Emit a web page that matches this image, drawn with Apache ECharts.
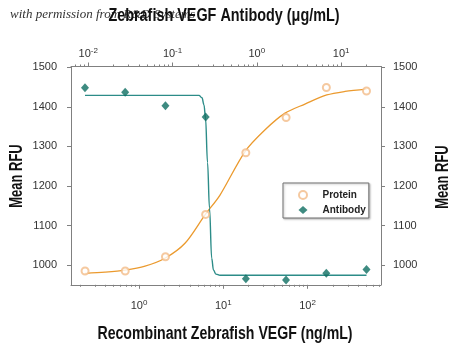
<!DOCTYPE html>
<html><head><meta charset="utf-8">
<script src="https://cdn.jsdelivr.net/npm/echarts@6/dist/echarts.min.js"></script>
<style>html,body{margin:0;padding:0;background:#fff}#c{width:450px;height:349px}</style>
</head><body><div id="c"></div>
<script>
// Data
const proteinConc = [0.229, 0.686, 2.06, 6.17, 18.5, 55.6, 167, 500];          // ng/mL
const proteinRFU  = [985, 985, 1021, 1128, 1284, 1373, 1449, 1440];
const antibodyConc = [0.00914, 0.0274, 0.0823, 0.247, 0.741, 2.22, 6.67, 20];   // ug/mL
const antibodyRFU  = [1448, 1437, 1403, 1374, 965, 962, 979, 989];

// fitted curves
const proteinFitConc = [0.229, 0.395, 0.68, 1.18, 2.03, 3.51, 6.07, 9.14, 18.1, 31.3, 54, 93, 169, 278, 500];
const proteinFitRFU  = [979, 982, 987, 997, 1017, 1055, 1127, 1177, 1287, 1342, 1384, 1407, 1430, 1439, 1445];
const antibodyFitConc = [0.00914, 0.206, 0.2234, 0.236, 0.246, 0.260, 0.2743, 0.2913, 0.306, 0.3276, 0.3655, 20];
const antibodyFitRFU  = [1429, 1429, 1423, 1405, 1372, 1259, 1144, 1017, 987, 977, 974, 974];

// axes
const bottomDecades = [0, 1, 2];
const topDecades = [-2, -1, 0, 1];
const yTicks = [1000, 1100, 1200, 1300, 1400, 1500];
const bottomRange = [-0.807, 2.871];   // log10 ng/mL
const topRange = [-2.205, 1.473];      // log10 ug/mL
const yRange = [950, 1502];

// titles
const topTitle = 'Zebrafish VEGF Antibody (\u03bcg/mL)';
const bottomTitle = 'Recombinant Zebrafish VEGF (ng/mL)';
const yTitle = 'Mean RFU';
const watermark = 'with permission from R&D Systems';

const FONT = '"Liberation Sans",Arial,sans-serif';
const TITLE_FONT = 'bold 18px "Liberation Sans", Arial, sans-serif';
const AX = '#808080';

function minorTicks(range) {
  const out = [];
  for (let d = Math.floor(range[0]); d <= Math.ceil(range[1]); d++) {
    for (let k = 2; k <= 9; k++) {
      const v = d + Math.log10(k);
      if (v >= range[0] && v <= range[1]) out.push(v);
    }
  }
  return out;
}
const toPts = (cs, vs) => cs.map((c, i) => [Math.log10(c), vs[i]]);
const supFmt = v => '{b|10}{s|' + Math.round(v) + '}';
const supRich = {
  b: { fontSize: 11, fontFamily: FONT, color: '#333' },
  s: { fontSize: 8, fontFamily: FONT, color: '#333', padding: [0, 0, 6, 0] }
};

function majorX(pos, range, decades, margin) {
  return {
    type: 'value', gridIndex: 0, position: pos, min: range[0], max: range[1],
    axisLine: { show: true, onZero: false, lineStyle: { color: AX, width: 1 } },
    axisTick: { show: true, inside: false, length: 4, customValues: decades, lineStyle: { color: AX } },
    axisLabel: { show: true, customValues: decades, formatter: supFmt, rich: supRich, margin: margin },
    splitLine: { show: false }
  };
}
function minorX(pos, range) {
  return {
    type: 'value', gridIndex: 1, position: pos, min: range[0], max: range[1],
    axisLine: { show: false, onZero: false },
    axisTick: { show: true, inside: false, length: 2, customValues: minorTicks(range), lineStyle: { color: AX } },
    axisLabel: { show: false }, splitLine: { show: false }
  };
}
function yAx(pos, gridIndex, show, margin) {
  return {
    type: 'value', gridIndex: gridIndex, position: pos, min: yRange[0], max: yRange[1],
    show: show,
    axisLine: { show: true, onZero: false, lineStyle: { color: AX, width: 1 } },
    axisTick: { show: true, inside: false, length: 4, customValues: yTicks, lineStyle: { color: AX } },
    axisLabel: { show: true, customValues: yTicks, formatter: v => String(v), margin: margin,
                 fontSize: 11, fontFamily: FONT, color: '#333' },
    splitLine: { show: false }
  };
}
function titleText(text, x, y, sx, rot) {
  return {
    type: 'text', x: x, y: y, scaleX: sx, rotation: rot || 0, z: 10,
    style: { text: text, font: TITLE_FONT, fill: '#111', align: 'center', verticalAlign: 'middle' }
  };
}

const gridRect = { left: 71, right: 69, top: 66.5, bottom: 64.2, outerBoundsMode: 'none', containLabel: false };
const chart = echarts.init(document.getElementById('c'), null, { renderer: 'canvas' });
chart.setOption({
  animation: false,
  backgroundColor: '#fff',
  grid: [Object.assign({}, gridRect), Object.assign({}, gridRect)],
  xAxis: [
    majorX('bottom', bottomRange, bottomDecades, 14),
    majorX('top', topRange, topDecades, 6),
    minorX('bottom', bottomRange),
    minorX('top', topRange)
  ],
  yAxis: [
    yAx('left', 0, true, 14),
    yAx('right', 0, true, 12),
    yAx('left', 1, false, 0)
  ],
  legend: {
    data: ['Protein', 'Antibody'],
    orient: 'vertical', left: 283, top: 183,
    itemWidth: 9, itemHeight: 8, itemGap: 5,
    padding: [7, 3, 3, 15],
    borderColor: '#707070', borderWidth: 1, backgroundColor: '#fff',
    shadowColor: 'rgba(0,0,0,0.25)', shadowBlur: 2, shadowOffsetX: 1, shadowOffsetY: 1,
    textStyle: { fontSize: 10, fontWeight: 'bold', fontFamily: FONT, color: '#222', padding: [0, 0, 0, 10] }
  },
  graphic: [
    { type: 'text', left: 10, top: 8, z: 0,
      style: { text: watermark, font: 'italic 13px "Liberation Serif", serif', fill: '#333' } },
    titleText(topTitle, 224, 16, 0.8),
    titleText(bottomTitle, 225, 334, 0.785),
    titleText(yTitle, 17, 176, 0.72, Math.PI / 2),
    titleText(yTitle, 443, 177, 0.72, Math.PI / 2)
  ],
  series: [
    { name: 'Protein fit', type: 'line', xAxisIndex: 0, yAxisIndex: 0, data: toPts(proteinFitConc, proteinFitRFU),
      showSymbol: false, smooth: 0.3, lineStyle: { color: '#EB9A2E', width: 1.3 }, z: 2 },
    { name: 'Antibody fit', type: 'line', xAxisIndex: 1, yAxisIndex: 0, data: toPts(antibodyFitConc, antibodyFitRFU),
      showSymbol: false, smooth: 0.4, smoothMonotone: 'x', lineStyle: { color: '#2C8C88', width: 1.4 }, z: 2 },
    { name: 'Protein', type: 'scatter', xAxisIndex: 0, yAxisIndex: 0, data: toPts(proteinConc, proteinRFU),
      symbol: 'emptyCircle', symbolSize: 7, itemStyle: { color: '#F2BC88', borderWidth: 1 }, z: 3 },
    { name: 'Antibody', type: 'scatter', xAxisIndex: 1, yAxisIndex: 0, data: toPts(antibodyConc, antibodyRFU),
      symbol: 'diamond', symbolSize: [8, 9], itemStyle: { color: '#0E6E62' }, z: 3 }
  ]
});
</script></body></html>
